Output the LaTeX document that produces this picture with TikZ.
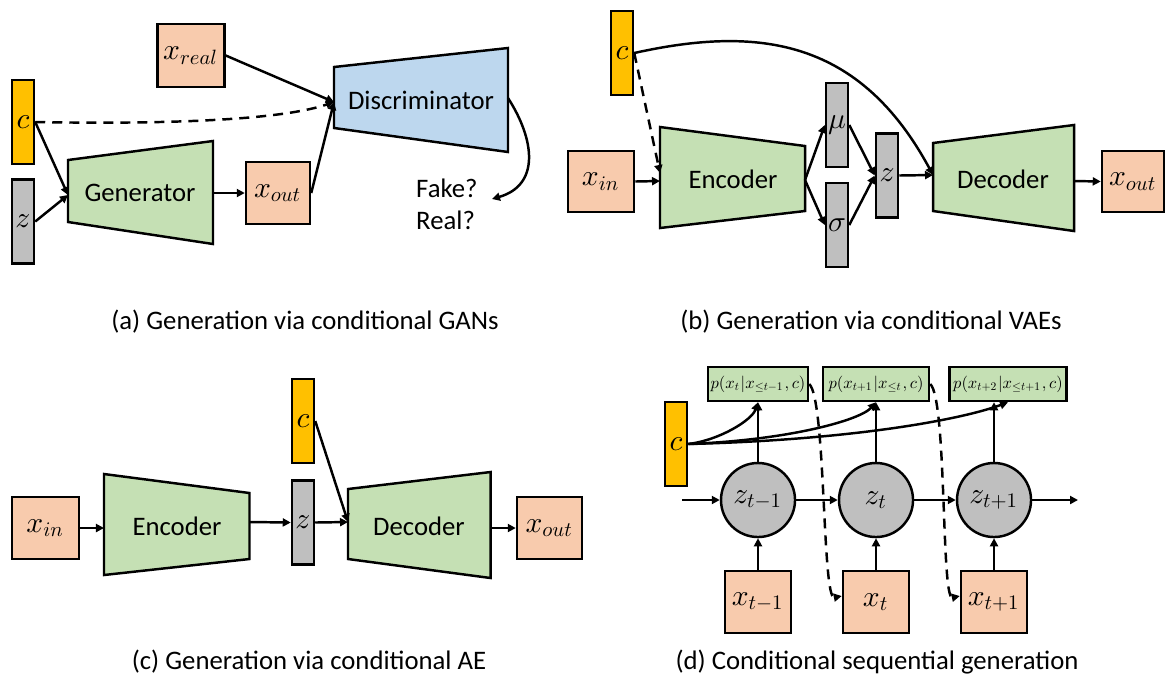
\documentclass[tikz,border=0pt]{standalone}
\usepackage[no-math]{fontspec}
\setmainfont{Carlito}
\usetikzlibrary{arrows.meta}
% scaled math fonts, narrow at small sizes
\DeclareFontShape{OML}{cmm}{m}{it}{<->cmmi10}{\skewchar\font'177}
\DeclareFontShape{OMS}{cmsy}{m}{n}{<->cmsy10}{\skewchar\font'60}
\DeclareFontShape{OT1}{cmr}{m}{n}{<->cmr10}{}
\definecolor{peach}{HTML}{F8CBAD}
\definecolor{cond}{HTML}{FFC000}
\definecolor{latent}{HTML}{BFBFBF}
\definecolor{netgreen}{HTML}{C5E0B4}
\definecolor{netblue}{HTML}{BDD7EE}

\begin{document}
\begin{tikzpicture}[x=0.01cm, y=-0.01cm, line width=0.7pt,
		font=\fontsize{7.6}{9.2}\selectfont,
		>={Triangle[length=0.8mm,width=0.8mm]},
		mathlbl/.style={font=\fontsize{8.4}{9}\selectfont},
		xbox/.style={draw, fill=peach, inner sep=0pt, mathlbl},
		bar/.style={draw, inner sep=0pt, minimum width=0.22cm, minimum height=0.84cm, mathlbl},
		cbar/.style={bar, fill=cond},
		zbar/.style={bar, fill=latent},
		net/.style={draw, fill=netgreen},
		pbox/.style={draw, fill=netgreen, inner sep=0pt, minimum height=0.34cm, font=\fontsize{4.7}{5}\selectfont},
		state/.style={circle, draw, fill=latent, inner sep=0pt, minimum size=0.74cm, mathlbl},
		cdash/.style={dashed, dash pattern=on 1mm off 0.7mm}]
	\useasboundingbox (0,0) rectangle (1165,675);

	% (a) conditional GAN
	\node[xbox, minimum width=0.67cm, minimum height=0.63cm] (xreal) at (191,55.5) {$x_{real}$};
	\node[cbar] (ca) at (23,122) {$c$};
	\node[zbar] (za) at (23,221.5) {$z$};
	\draw[net] (68,160) -- (213,141) -- (213,244) -- (68,222) -- cycle;
	\node (gen) at (140,193) {Generator};
	\coordinate (genin) at (68,195);
	\coordinate (genout) at (213,193);
	\node[xbox, minimum width=0.64cm, minimum height=0.62cm] (xouta) at (278,193) {$x_{out}$};
	\draw[net, fill=netblue] (334,67) -- (508,48) -- (508,152) -- (334,128) -- cycle;
	\node (disc) at (421,100) {Discriminator};
	\coordinate (discin) at (334,102);
	\coordinate (discout) at (508,98);
	\node[anchor=west, align=left, inner sep=0pt] (verdict) at (415,204) {Fake?\\Real?};
	\coordinate (ask) at (492,199);
	\draw[->] (ca.east) -- (genin);
	\draw[->] (za.east) -- (genin);
	\draw[->] (genout) -- (xouta.west);
	\draw[->] (xreal.east) -- (discin);
	\draw[->] (xouta.east) -- (discin);
	\draw[->, cdash] (ca.east) .. controls (200,125) and (290,117) .. (discin);
	\draw[->] (discout) .. controls (535,140) and (540,185) .. (ask);
	\node (capa) at (305,322) {(a) Generation via conditional GANs};

	% (b) conditional VAE
	\node[cbar] (cb) at (622,53) {$c$};
	\node[xbox, minimum width=0.66cm, minimum height=0.61cm] (xinb) at (601,181.5) {$x_{in}$};
	\draw[net] (660,127) -- (805,146) -- (805,211) -- (660,228) -- cycle;
	\node (encb) at (733,179) {Encoder};
	\coordinate (encbin) at (660,181);
	\coordinate (encbc) at (660,173);
	\coordinate (encbout) at (805,180);
	\node[zbar] (mu) at (837,125) {$\mu$};
	\node[zbar] (sigma) at (837,225) {$\sigma$};
	\node[zbar] (zb) at (887,175.5) {$z$};
	\draw[net] (933,143) -- (1074,125) -- (1074,231) -- (933,211) -- cycle;
	\node (decb) at (1003,179) {Decoder};
	\coordinate (decbin) at (933,175);
	\coordinate (decbout) at (1074,181);
	\node[xbox, minimum width=0.62cm, minimum height=0.61cm] (xoutb) at (1133,181.5) {$x_{out}$};
	\draw[->] (xinb.east) -- (encbin);
	\draw[->, cdash] (cb.east) -- (encbc);
	\draw[->] (encbout) -- (mu.west);
	\draw[->] (encbout) -- (sigma.west);
	\draw[->] (mu.east) -- (zb.west);
	\draw[->] (sigma.east) -- (zb.west);
	\draw[->] (zb.east) -- (decbin);
	\draw[->] (decbout) -- (xoutb.west);
	\draw[->] (cb.east) .. controls (760,25) and (860,40) .. (decbin);
	\node (capb) at (871,322) {(b) Generation via conditional VAEs};

	% (c) conditional AE
	\node[xbox, minimum width=0.67cm, minimum height=0.62cm] (xinc) at (45.5,528) {$x_{in}$};
	\draw[net] (104,474) -- (249.5,493) -- (249.5,559) -- (104,575) -- cycle;
	\node (encc) at (177,526) {Encoder};
	\coordinate (enccin) at (104,528);
	\coordinate (enccout) at (249.5,522);
	\node[zbar] (zc) at (303,522.5) {$z$};
	\node[cbar] (cc) at (303,421) {$c$};
	\draw[net] (348,489) -- (490.6,472) -- (490.6,578) -- (348,559) -- cycle;
	\node (decc) at (419,526) {Decoder};
	\coordinate (deccin) at (348,522);
	\coordinate (deccout) at (490.6,528);
	\node[xbox, minimum width=0.65cm, minimum height=0.62cm] (xoutc) at (549.5,528) {$x_{out}$};
	\draw[->] (xinc.east) -- (enccin);
	\draw[->] (enccout) -- (zc.west);
	\draw[->] (zc.east) -- (deccin);
	\draw[->] (cc.east) -- (deccin);
	\draw[->] (deccout) -- (xoutc.west);
	\node (capc) at (309,662) {(c) Generation via conditional AE};

	% (d) sequential generation
	\node[cbar] (cd) at (676,444) {$c$};
	\node[pbox, minimum width=1.0cm] (p1) at (758,384) {$p(x_t|x_{\le t-1},c)$};
	\node[pbox, minimum width=1.06cm] (p2) at (876,384) {$p(x_{t+1}|x_{\le t},c)$};
	\node[pbox, minimum width=1.17cm] (p3) at (1008,384) {$p(x_{t+2}|x_{\le t+1},c)$};
	\foreach \i/\x/\s in {1/758/t-1, 2/876/t, 3/994/t+1} {
		\node[state] (z\i) at (\x,500) {$z_{\s}$};
		\node[xbox, minimum width=0.66cm, minimum height=0.62cm] (x\i) at (\x,602) {$x_{\s}$};
		\draw[->] (x\i.north) -- (z\i.south);
	}
	\coordinate (zin) at (682,500);
	\coordinate (zend) at (1078,500);
	\draw[->] (zin) -- (z1.west);
	\draw[->] (z1.east) -- (z2.west);
	\draw[->] (z2.east) -- (z3.west);
	\draw[->] (z3.east) -- (zend);
	\draw[->] (z1.north) -- (p1.south);
	\draw[->] (z2.north) -- (p2.south);
	\draw[->] (z3.north) -- (z3.north |- p3.south);
	\draw[->] (cd.east) .. controls (720,440) and (752,420) .. (p1.south);
	\draw[->] (cd.east) .. controls (790,440) and (860,420) .. (p2.south);
	\draw[->] (cd.east) .. controls (850,440) and (960,420) .. (p3.south);
	\draw[->, cdash] (p1.east) .. controls (826,400) and (822,600) .. ([yshift=0.06cm]x2.west);
	\draw[->, cdash] (p2.east) .. controls (947,400) and (941,600) .. ([yshift=0.06cm]x3.west);
	\node (capd) at (877,662) {(d) Conditional sequential generation};
\end{tikzpicture}
\end{document}
